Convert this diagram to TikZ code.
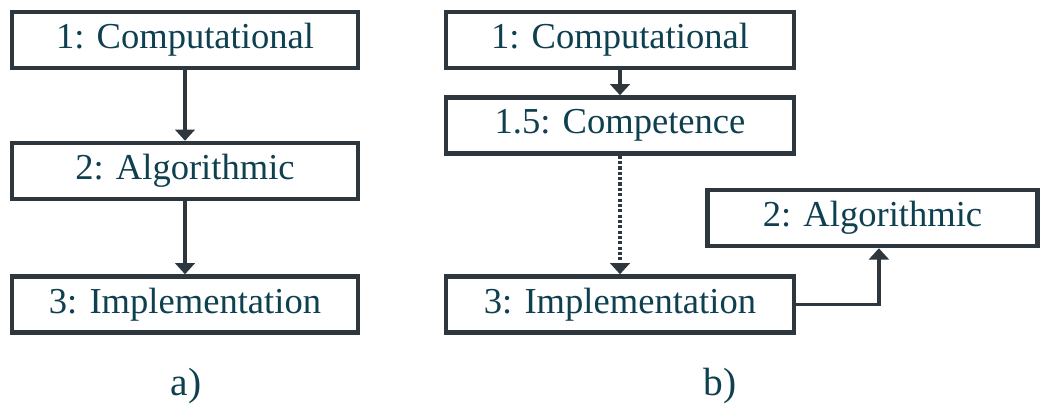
\documentclass[tikz,border=0pt]{standalone}
\usepackage{fontspec}
\setmainfont{Liberation Serif}
\usetikzlibrary{arrows.meta}
\definecolor{boxline}{HTML}{2E373D}
\definecolor{labeltext}{HTML}{0E4050}
\tikzset{
  level/.style={draw=boxline, line width=3.2pt, minimum width=8.65cm, minimum height=1.4cm,
    inner sep=0pt, text=labeltext, font=\fontsize{26}{30}\selectfont},
  link/.style={draw=boxline, line width=2.6pt, -{Triangle[width=14pt,length=8pt]}},
  caption/.style={text=labeltext, font=\fontsize{28}{32}\selectfont}
}
\begin{document}
\begin{tikzpicture}[x=0.025cm, y=-0.025cm]
  \useasboundingbox (0,0) rectangle (1046,410);
  % a)
  \node[level] (compA) at (185,40) {1: Computational};
  \node[level] (algoA) at (185,171) {2: Algorithmic};
  \node[level] (implA) at (185,304.5) {3: Implementation};
  \draw[link] (compA) -- (algoA);
  \draw[link] (algoA) -- (implA);
  \node[caption] (capA) at (186,386) {a)};
  % b)
  \node[level, minimum width=8.7cm] (compB) at (620,40) {1: Computational};
  \node[level, minimum width=8.7cm] (compeB) at (620,125.5) {1.5: Competence};
  \node[level, minimum width=8.7cm] (implB) at (620,304.5) {3: Implementation};
  \node[level, minimum width=8.25cm] (algoB) at (872.5,218) {2: Algorithmic};
  \draw[link] (compB) -- (compeB);
  \draw[link, dash pattern=on 2.2pt off 1.6pt] (compeB) -- (implB);
  \draw[link] (implB.east) -| ([xshift=0.16cm]algoB.south);
  \node[caption] (capB) at (720,386) {b)};
\end{tikzpicture}
\end{document}
